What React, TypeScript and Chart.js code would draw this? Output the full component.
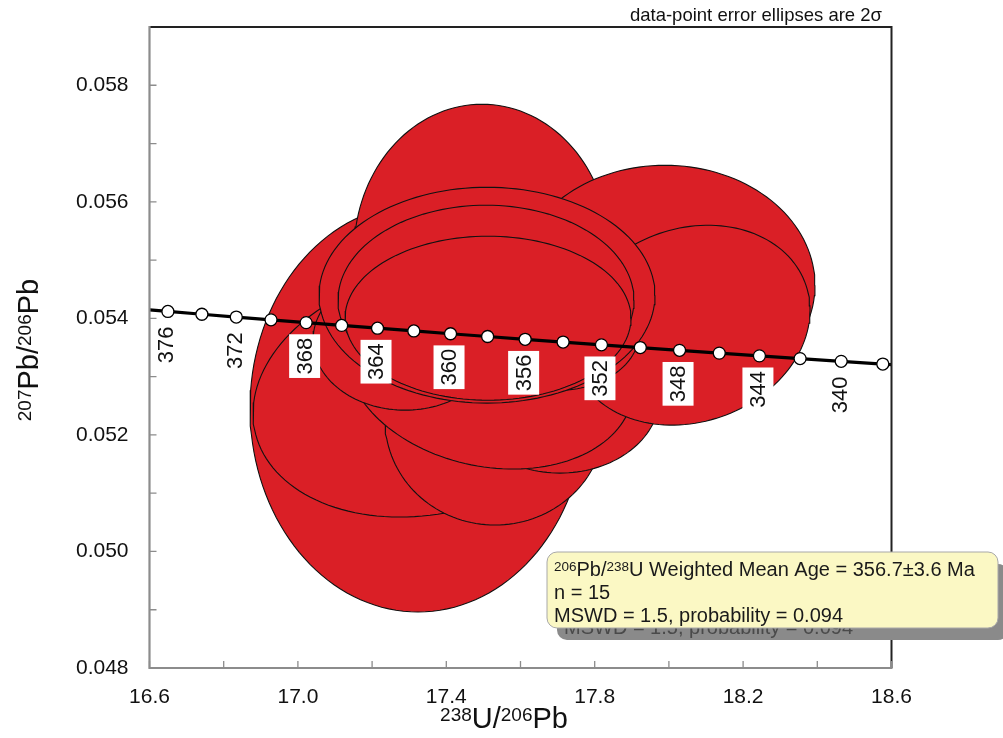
import React, { useEffect, useRef } from 'react';
import { Chart, registerables } from 'chart.js';

Chart.register(...registerables);

const FONT = "'Liberation Sans', Arial, Helvetica, sans-serif";

// ---- axes ----
const xMin = 16.6;
const xMax = 18.6;
const yMin = 0.048;
const yMax = 0.059;
const xTicks = [16.6, 16.8, 17.0, 17.2, 17.4, 17.6, 17.8, 18.0, 18.2, 18.4, 18.6];
const xTickLabels = ['16.6', '', '17.0', '', '17.4', '', '17.8', '', '18.2', '', '18.6'];
const yTicks = [0.048, 0.049, 0.05, 0.051, 0.052, 0.053, 0.054, 0.055, 0.056, 0.057, 0.058];
const yTickLabels = ['0.048', '', '0.050', '', '0.052', '', '0.054', '', '0.056', '', '0.058'];

// ---- concordia (Tera-Wasserburg), ages in Ma ----
const concordiaAges = [338, 340, 342, 344, 346, 348, 350, 352, 354, 356, 358, 360, 362, 364, 366, 368, 370, 372, 374, 376];
const concordiaX = [18.5766, 18.4644, 18.3536, 18.2440, 18.1357, 18.0287, 17.9229, 17.8182, 17.7148, 17.6125, 17.5114, 17.4114, 17.3125, 17.2146, 17.1179, 17.0222, 16.9275, 16.8339, 16.7412, 16.6496];
const concordiaY = [0.0532156, 0.0532625, 0.0533097, 0.0533567, 0.0534039, 0.0534513, 0.0534987, 0.0535458, 0.0535934, 0.0536408, 0.0536884, 0.0537361, 0.0537838, 0.0538312, 0.0538791, 0.053927, 0.0539748, 0.0540228, 0.0540708, 0.0541189];
const concordiaLabelAges = [340, 344, 348, 352, 356, 360, 364, 368, 372, 376];
const concordiaEndX = [16.6, 18.6];
const concordiaEndY = [0.0541449, 0.0532058];

// ---- data-point error ellipses (2 sigma), listed from bottom-most to top-most ----
const ellipseX = [18.0838, 17.8682, 17.3237, 17.3561, 17.5313, 17.7065, 17.5178, 17.2887, 17.4962, 17.9895, 18.0569, 17.7065, 17.5097, 17.5070, 17.5124];
const ellipseY = [0.053712, 0.053283, 0.05246, 0.052734, 0.052254, 0.052683, 0.053129, 0.053626, 0.055136, 0.054569, 0.053883, 0.053798, 0.054398, 0.054312, 0.054003];
const ellipseErrX = [0.2561, 0.1887, 0.4528, 0.4771, 0.2965, 0.2695, 0.3881, 0.248, 0.345, 0.4043, 0.3235, 0.2156, 0.4528, 0.3989, 0.3854];
const ellipseErrY = [0.001286, 0.001029, 0.003499, 0.002144, 0.001801, 0.001338, 0.001715, 0.001201, 0.002539, 0.002058, 0.001715, 0.001029, 0.001852, 0.00163, 0.001407];
const ellipseRho = [0, 0, 0, 0.17, 0, 0, -0.16, 0, 0, 0, 0.15, 0, 0, 0, 0];

// ---- statistics ----
const statsAge = '356.7';
const statsErr = '3.6';
const statsN = '15';
const statsMSWD = '1.5';
const statsProb = '0.094';

type Run = { t: string; sup?: boolean };

function ellipsePoints(cx: number, cy: number, sx: number, sy: number, rho: number, n = 144) {
  const pts: { x: number; y: number }[] = [];
  const k = Math.sqrt(1 - rho * rho);
  for (let i = 0; i <= n; i++) {
    const t = (2 * Math.PI * i) / n;
    pts.push({ x: cx + sx * Math.cos(t), y: cy + sy * (rho * Math.cos(t) + k * Math.sin(t)) });
  }
  return pts;
}

function runsWidth(ctx: CanvasRenderingContext2D, runs: Run[], main: number, sup: number) {
  let w = 0;
  for (const r of runs) {
    ctx.font = `${r.sup ? sup : main}px ${FONT}`;
    w += ctx.measureText(r.t).width;
  }
  return w;
}

function drawRuns(ctx: CanvasRenderingContext2D, runs: Run[], x: number, y: number, main: number, sup: number, raise: number, color: string) {
  let cx = x;
  ctx.fillStyle = color;
  ctx.textAlign = 'left';
  ctx.textBaseline = 'alphabetic';
  for (const r of runs) {
    ctx.font = `${r.sup ? sup : main}px ${FONT}`;
    ctx.fillText(r.t, cx, r.sup ? y - raise : y);
    cx += ctx.measureText(r.t).width;
  }
}

function roundRectPath(ctx: CanvasRenderingContext2D, x: number, y: number, w: number, h: number, r: number) {
  ctx.beginPath();
  ctx.moveTo(x + r, y);
  ctx.lineTo(x + w - r, y);
  ctx.arcTo(x + w, y, x + w, y + r, r);
  ctx.lineTo(x + w, y + h - r);
  ctx.arcTo(x + w, y + h, x + w - r, y + h, r);
  ctx.lineTo(x + r, y + h);
  ctx.arcTo(x, y + h, x, y + h - r, r);
  ctx.lineTo(x, y + r);
  ctx.arcTo(x, y, x + r, y, r);
  ctx.closePath();
}

const decorPlugin = {
  id: 'isoplotDecor',
  afterDatasetsDraw(chart: any) {
    const ctx: CanvasRenderingContext2D = chart.ctx;
    const xs = chart.scales.x;
    const ys = chart.scales.y;
    for (const age of concordiaLabelAges) {
      const i = concordiaAges.indexOf(age);
      const px = xs.getPixelForValue(concordiaX[i]);
      const py = ys.getPixelForValue(concordiaY[i]);
      const label = String(age);
      ctx.save();
      ctx.translate(px - 1.5, py + 33.5);
      ctx.rotate(-Math.PI / 2);
      ctx.font = `22px ${FONT}`;
      const w = ctx.measureText(label).width;
      ctx.fillStyle = '#ffffff';
      ctx.fillRect(-w / 2 - 3.5, -15.5, w + 7, 31);
      ctx.fillStyle = '#111111';
      ctx.textAlign = 'center';
      ctx.textBaseline = 'middle';
      ctx.fillText(label, 0, 1);
      ctx.restore();
    }
  },
  afterDraw(chart: any) {
    const ctx: CanvasRenderingContext2D = chart.ctx;
    const { left, right, top, bottom } = chart.chartArea;
    const xs = chart.scales.x;
    const ys = chart.scales.y;
    ctx.save();
    ctx.strokeStyle = '#222222';
    ctx.lineWidth = 2;
    ctx.beginPath();
    ctx.moveTo(left, top);
    ctx.lineTo(right, top);
    ctx.lineTo(right, bottom);
    ctx.stroke();
    ctx.strokeStyle = '#8c8c8c';
    ctx.lineWidth = 2.2;
    ctx.beginPath();
    ctx.moveTo(left, top - 1);
    ctx.lineTo(left, bottom);
    ctx.lineTo(right + 1, bottom);
    ctx.stroke();
    ctx.lineWidth = 1.3;
    ctx.beginPath();
    for (const v of xTicks) {
      const p = xs.getPixelForValue(v);
      ctx.moveTo(p, bottom);
      ctx.lineTo(p, bottom - 7);
    }
    for (const v of yTicks) {
      const p = ys.getPixelForValue(v);
      ctx.moveTo(left, p);
      ctx.lineTo(left + 7, p);
    }
    ctx.stroke();

    const xTitle: Run[] = [{ t: '238', sup: true }, { t: 'U/' }, { t: '206', sup: true }, { t: 'Pb' }];
    const yTitle: Run[] = [{ t: '207', sup: true }, { t: 'Pb/' }, { t: '206', sup: true }, { t: 'Pb' }];
    const wx = runsWidth(ctx, xTitle, 29, 19);
    drawRuns(ctx, xTitle, 504 - wx / 2, 728, 29, 19, 7.2, '#111111');
    ctx.save();
    ctx.translate(38, 350);
    ctx.rotate(-Math.PI / 2);
    const wy = runsWidth(ctx, yTitle, 29, 19);
    drawRuns(ctx, yTitle, -wy / 2, 0, 29, 19, 7.2, '#111111');
    ctx.restore();

    ctx.font = `18.5px ${FONT}`;
    ctx.fillStyle = '#111111';
    ctx.textAlign = 'right';
    ctx.textBaseline = 'alphabetic';
    ctx.fillText('data-point error ellipses are 2σ', 882, 21);

    const lines: Run[][] = [
      [{ t: '206', sup: true }, { t: 'Pb/' }, { t: '238', sup: true }, { t: `U Weighted Mean Age = ${statsAge}±${statsErr} Ma` }],
      [{ t: `n = ${statsN}` }],
      [{ t: `MSWD = ${statsMSWD}, probability = ${statsProb}` }],
    ];
    const bx = 547, by = 552, bw = 451, bh = 76;
    const sdx = 10, sdy = 12;
    roundRectPath(ctx, bx + sdx, by + sdy, bw, bh, 10);
    ctx.fillStyle = '#8a8a8a';
    ctx.fill();
    lines.forEach((ln, k) => drawRuns(ctx, ln, 554 + sdx, 576 + 23 * k + sdy, 20, 13.5, 5, '#4a4a4a'));
    roundRectPath(ctx, bx, by, bw, bh, 10);
    ctx.fillStyle = '#fbf8c4';
    ctx.fill();
    ctx.strokeStyle = '#a8a8a8';
    ctx.lineWidth = 1;
    ctx.stroke();
    lines.forEach((ln, k) => drawRuns(ctx, ln, 554, 576 + 23 * k, 20, 13.5, 5, '#1a1a1a'));
    ctx.restore();
  },
};

export default function App() {
  const ref = useRef<HTMLCanvasElement | null>(null);
  useEffect(() => {
    if (!ref.current) return;
    const n = ellipseX.length;
    const ellipseSets = ellipseX.map((cx, i) => ({
      label: `ellipse ${i + 1}`,
      data: ellipsePoints(cx, ellipseY[i], ellipseErrX[i], ellipseErrY[i], ellipseRho[i]),
      borderColor: '#111111',
      borderWidth: 1.1,
      backgroundColor: 'rgb(218,31,38)',
      fill: 'shape',
      pointRadius: 0,
      tension: 0,
      order: 100 + n - i,
    }));
    const concordiaPts = concordiaX.map((x, i) => ({ x, y: concordiaY[i] }));
    const linePts = [
      { x: concordiaEndX[0], y: concordiaEndY[0] },
      ...concordiaPts.slice().reverse(),
      { x: concordiaEndX[1], y: concordiaEndY[1] },
    ];
    const zeroPad = (axis: any) => {
      axis.paddingTop = 0;
      axis.paddingBottom = 0;
      axis.paddingLeft = 0;
      axis.paddingRight = 0;
    };
    const chart = new Chart(ref.current, {
      type: 'line',
      data: {
        datasets: [
          ...ellipseSets,
          {
            label: 'concordia',
            data: linePts,
            borderColor: '#000000',
            borderWidth: 3.2,
            pointRadius: 0,
            fill: false,
            tension: 0,
            order: 2,
          },
          {
            label: 'ages',
            data: concordiaPts,
            showLine: false,
            pointRadius: 6,
            pointBackgroundColor: '#ffffff',
            pointBorderColor: '#000000',
            pointBorderWidth: 1.3,
            fill: false,
            order: 1,
          },
        ] as any,
      },
      options: {
        responsive: false,
        animation: false,
        events: [],
        layout: { padding: { top: 27, right: 111.5, left: 0, bottom: 0 } },
        plugins: {
          legend: { display: false },
          tooltip: { enabled: false },
          filler: { propagate: false, drawTime: 'beforeDatasetDraw' },
        } as any,
        scales: {
          x: {
            type: 'linear',
            position: 'bottom',
            min: xMin,
            max: xMax,
            afterBuildTicks: (axis: any) => {
              axis.ticks = xTicks.map((v) => ({ value: v }));
            },
            afterFit: (axis: any) => {
              axis.height = 70;
              zeroPad(axis);
            },
            ticks: {
              autoSkip: false,
              maxRotation: 0,
              minRotation: 0,
              padding: 16.5,
              color: '#111111',
              font: { family: FONT, size: 21 },
              callback: (_v: any, i: number) => xTickLabels[i],
            },
            grid: { display: false, drawTicks: false },
            border: { display: false },
          },
          y: {
            type: 'linear',
            position: 'left',
            min: yMin,
            max: yMax,
            afterBuildTicks: (axis: any) => {
              axis.ticks = yTicks.map((v) => ({ value: v }));
            },
            afterFit: (axis: any) => {
              axis.width = 149.5;
              zeroPad(axis);
            },
            ticks: {
              autoSkip: false,
              padding: 21,
              color: '#111111',
              font: { family: FONT, size: 21 },
              callback: (_v: any, i: number) => yTickLabels[i],
            },
            grid: { display: false, drawTicks: false },
            border: { display: false },
          },
        },
      } as any,
      plugins: [decorPlugin],
    });
    return () => chart.destroy();
  }, []);
  return (
    <div style={{ position: 'absolute', left: 0, top: 0, width: 1003, height: 738, background: '#ffffff' }}>
      <canvas ref={ref} width={1003} height={738} style={{ display: 'block' }} />
    </div>
  );
}
